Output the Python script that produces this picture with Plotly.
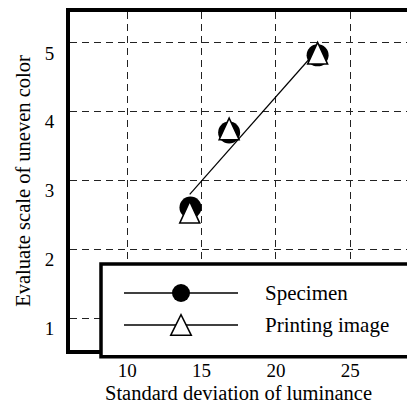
import plotly.graph_objects as go

# ---- data ----
specimen_x = [14.25, 16.85, 22.8]
specimen_y = [2.61, 3.70, 4.82]
printing_x = [14.2, 16.85, 22.8]
printing_y = [2.51, 3.72, 4.82]
fit_x = [14.2, 22.7]
fit_y = [2.80, 4.88]
x_ticks = [10, 15, 20, 25]
y_ticks = [1, 2, 3, 4, 5]
series_names = ["Specimen", "Printing image"]

FONT = "Liberation Serif"
W, H = 407, 408
ML, MR, MT, MB = 70, 0, 12, 58
plot_w = W - ML - MR
plot_h = H - MT - MB


def px_x(p):  # page pixel -> paper fraction
    return (p - ML) / plot_w


def px_y(p):
    return (H - MB - p) / plot_h


# triangle outline (pixels, relative to the point; +y is up)
TRI = "M-10,-8.7 L10,-8.7 L0,13 Z"
TRI_LEG = "M-10.3,-10.3 L10.3,-10.3 L0,10.3 Z"

fig = go.Figure()

# fitted line
fig.add_trace(go.Scatter(x=fit_x, y=fit_y, mode="lines",
                         line=dict(color="black", width=1.2),
                         showlegend=False, hoverinfo="skip"))
# specimen circles
fig.add_trace(go.Scatter(x=specimen_x, y=specimen_y, mode="markers",
                         name=series_names[0], showlegend=False,
                         marker=dict(symbol="circle", size=22, color="black",
                                     line=dict(width=0))))
# printing image triangles (trace + exact-shaped outline on top)
fig.add_trace(go.Scatter(x=printing_x, y=printing_y, mode="markers",
                         name=series_names[1], showlegend=False,
                         marker=dict(symbol="triangle-up", size=12, color="white",
                                     line=dict(color="black", width=1))))
for px, py in zip(printing_x, printing_y):
    fig.add_shape(type="path", xref="x", yref="y",
                  xsizemode="pixel", ysizemode="pixel", xanchor=px, yanchor=py,
                  path=TRI, fillcolor="white",
                  line=dict(color="black", width=1.5), layer="above")

# ---- manual legend box ----
fig.add_shape(type="rect", xref="paper", yref="paper",
              x0=px_x(101), x1=1.05, y0=-0.02, y1=px_y(264),
              fillcolor="white", line=dict(color="black", width=3.5),
              layer="above")
rows_px = [293, 325]
for yy in rows_px:
    fig.add_shape(type="line", xref="paper", yref="paper",
                  x0=px_x(124), x1=px_x(238), y0=px_y(yy), y1=px_y(yy),
                  line=dict(color="black", width=1.5), layer="above")
fig.add_shape(type="circle", xref="paper", yref="paper",
              xsizemode="pixel", ysizemode="pixel",
              xanchor=px_x(181), yanchor=px_y(rows_px[0]),
              x0=-9, x1=9, y0=-9, y1=9, fillcolor="black",
              line=dict(color="black", width=0), layer="above")
fig.add_shape(type="path", xref="paper", yref="paper",
              xsizemode="pixel", ysizemode="pixel",
              xanchor=px_x(181), yanchor=px_y(rows_px[1]),
              path=TRI_LEG, fillcolor="white",
              line=dict(color="black", width=1.5), layer="above")

for name, yy in zip(series_names, rows_px):
    fig.add_annotation(x=px_x(263), y=px_y(yy), xref="paper", yref="paper",
                       text=name, showarrow=False, xanchor="left", yanchor="middle",
                       font=dict(family=FONT, size=21, color="black"))

axis_common = dict(showgrid=True, gridcolor="#222", gridwidth=1,
                   griddash="7px,5px", zeroline=False,
                   ticks="", tickfont=dict(family=FONT, size=19, color="black"),
                   showline=True, linecolor="black", linewidth=4)

fig.update_layout(
    width=W, height=H,
    margin=dict(l=ML, r=MR, t=MT, b=MB),
    paper_bgcolor="white", plot_bgcolor="white",
    font=dict(family=FONT, size=20, color="black"),
    showlegend=False,
    xaxis=dict(range=[6.15, 28.81], tickvals=x_ticks, mirror=True,
               title=dict(text="Standard deviation of luminance",
                          font=dict(family=FONT, size=20.5), standoff=7),
               **axis_common),
    yaxis=dict(range=[0.54, 5.45], tickvals=y_ticks, mirror=False,
               ticklabelshift=10, ticklabelstandoff=8,
               title=dict(text="Evaluate scale of uneven color",
                          font=dict(family=FONT, size=20.5), standoff=10),
               **axis_common),
)

fig.write_html("out.html")
